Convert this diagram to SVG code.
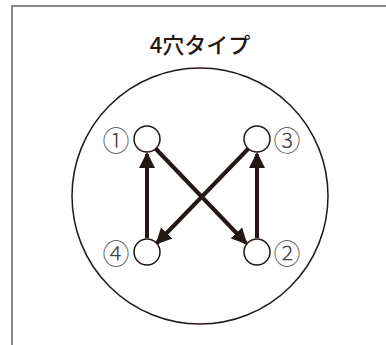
<svg xmlns="http://www.w3.org/2000/svg" width="386" height="345" viewBox="0 0 386 345">
<style>
.frame{fill:none;stroke:#8a8583;stroke-width:2}
.big{fill:none;stroke:#231815;stroke-width:1.5}
.hole{fill:#fff;stroke:#231815;stroke-width:1.5}
.lbl{font-family:"Noto Sans CJK JP",sans-serif;font-size:27px;font-weight:300;fill:#444;text-anchor:middle;dominant-baseline:central}
.title{font-family:"Noto Sans CJK JP",sans-serif;font-size:22px;font-weight:500;fill:#231815;text-anchor:middle}
.arr{stroke:#231815;stroke-width:4;fill:none;marker-end:url(#ah)}
</style>
<defs>
<marker id="ah" markerUnits="userSpaceOnUse" markerWidth="16" markerHeight="16" refX="14" refY="8" orient="auto" viewBox="0 0 16 16">
<path d="M0,0 L16,8 L0,16 Z" fill="#231815"/>
</marker>
</defs>
<path class="frame" d="M12,345 V6 H386"/>
<text class="title" x="200" y="53">4穴タイプ</text>
<circle class="big" cx="200" cy="196" r="128"/>
<g id="connectors">
<line class="arr" x1="147" y1="238" x2="147" y2="154"/>
<line class="arr" x1="257" y1="238" x2="257" y2="154"/>
<line class="arr" x1="155" y1="148" x2="246" y2="243"/>
<line class="arr" x1="249" y1="148" x2="157" y2="243"/>
</g>
<g id="n1"><circle class="hole" cx="147" cy="139" r="13"/><text class="lbl" x="116" y="139">①</text></g>
<g id="n3"><circle class="hole" cx="257" cy="139" r="13"/><text class="lbl" x="287" y="139">③</text></g>
<g id="n4"><circle class="hole" cx="147" cy="252" r="13"/><text class="lbl" x="116" y="252">④</text></g>
<g id="n2"><circle class="hole" cx="257" cy="252" r="13"/><text class="lbl" x="287" y="252">②</text></g>
</svg>
